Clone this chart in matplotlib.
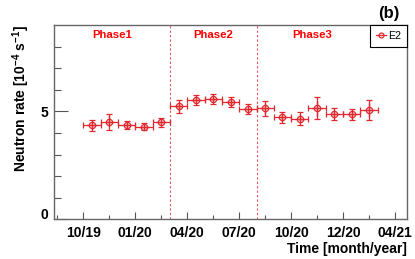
import numpy as np
import matplotlib
matplotlib.use("Agg")
import matplotlib.pyplot as plt
from matplotlib.lines import Line2D

# monthly bins, months counted from Oct 2019 (bin centres)
mes = np.arange(17) + 0.5
taxa = [4.35, 4.53, 4.37, 4.30, 4.49,
        5.23, 5.54, 5.59, 5.43, 5.11,
        5.14, 4.73, 4.67, 5.15, 4.89, 4.86, 5.06]
erro = [0.26, 0.37, 0.19, 0.16, 0.19,
        0.30, 0.23, 0.24, 0.23, 0.25,
        0.34, 0.26, 0.30, 0.50, 0.28, 0.27, 0.47]

fases = ["Phase1", "Phase2", "Phase3"]
fase_x = [1.67, 7.5, 13.2]
limites = [5, 10]

ticks_x = [0, 3, 6, 9, 12, 15, 18]
rotulos_x = ["10/19", "01/20", "04/20", "07/20", "10/20", "12/20", "04/21"]

vermelho = "#e0282e"

plt.rcParams['font.family'] = ['Liberation Sans', 'DejaVu Sans']
plt.rcParams['mathtext.fontset'] = 'custom'
plt.rcParams['mathtext.bf'] = 'Liberation Sans:bold'
plt.rcParams['mathtext.rm'] = 'Liberation Sans:bold'
plt.rcParams['mathtext.default'] = 'bf'

fig = plt.figure(figsize=(4.15, 2.59), dpi=100)
ax = fig.add_axes([0.130, 0.153, 0.851, 0.750])

# camada clara (erro sistematico) por baixo
ax.errorbar(mes, taxa, xerr=0.28, yerr=np.array(erro) * 0.7, fmt='none',
            ecolor=vermelho, elinewidth=2.0, alpha=0.22, capsize=0, zorder=1)
ax.errorbar(mes, taxa, xerr=0.5, yerr=erro, fmt='o', color=vermelho,
            mfc='none', mec=vermelho, ms=4.5, mew=0.9, elinewidth=0.9,
            capsize=2, capthick=0.9, zorder=2)

for x in limites:
    ax.axvline(x, color=vermelho, ls=(0, (2, 2)), lw=0.8, alpha=0.8)

for nome, x in zip(fases, fase_x):
    ax.text(x, 8.52, nome, color="#ff0000", fontsize=8.2, fontweight='bold',
            ha='center', va='center')

ax.set_xlim(-1.7, 18.7)
ax.set_ylim(0, 9)

ax.set_xticks(ticks_x)
ax.set_xticklabels(rotulos_x, fontsize=10, fontweight='bold')
ax.set_xticks(np.arange(-1.5, 18.7, 3), minor=True)
ax.set_yticks([0, 5])
ax.set_yticklabels(["0", "5"], fontsize=10, fontweight='bold')
ax.set_yticks([1, 2, 3, 4, 6, 7, 8], minor=True)

ax.tick_params(axis='x', which='major', direction='in', length=5, width=0.8,
               color='#555555', pad=5)
ax.tick_params(axis='x', which='minor', direction='in', length=3, width=0.8,
               color='#555555')
ax.tick_params(axis='y', which='major', direction='in', length=10, width=0.8,
               color='#555555', pad=4)
ax.tick_params(axis='y', which='minor', direction='in', length=5, width=0.8,
               color='#555555')

# o "0" assenta sobre o eixo, como no original
ax.get_yticklabels()[0].set_verticalalignment('baseline')

for lado in ax.spines.values():
    lado.set_color('#666666')
    lado.set_linewidth(1.0)

ax.set_xlabel("Time [month/year]", fontsize=10, fontweight='bold',
              loc='right', labelpad=1)
ax.set_ylabel(r"Neutron rate [10$^{-4}$ s$^{-1}$]",
              fontsize=10, fontweight='bold', loc='top', labelpad=6)

marca = Line2D([], [], color=vermelho, lw=0.9, marker='o', mfc='none',
               mec=vermelho, ms=3.5, mew=0.9)
leg = ax.legend([marca], ["E2"], loc='upper right', fontsize=7.7,
                frameon=True, fancybox=False, borderaxespad=0,
                handlelength=0.9, handletextpad=0.25, borderpad=0.55,
                framealpha=1)
leg.get_frame().set_edgecolor('black')
leg.get_frame().set_linewidth(0.8)

fig.text(0.962, 0.948, "(b)", fontsize=12, fontweight='bold',
         ha='right', va='center')

fig.savefig("out.png", dpi=100)
